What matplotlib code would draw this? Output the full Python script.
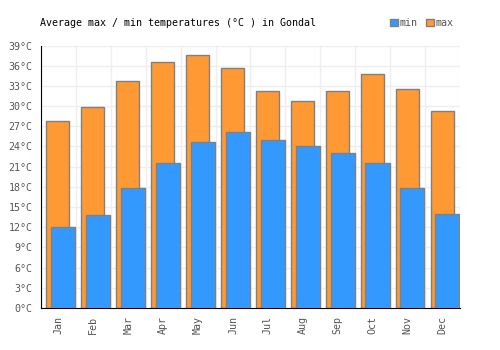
import matplotlib
matplotlib.use('Agg')
import matplotlib.pyplot as plt
from matplotlib.patches import Patch
import numpy as np

months = ['Jan', 'Feb', 'Mar', 'Apr', 'May', 'Jun',
          'Jul', 'Aug', 'Sep', 'Oct', 'Nov', 'Dec']
t_max = [27.8, 29.8, 33.8, 36.5, 37.6, 35.7, 32.2, 30.8, 32.3, 34.8, 32.6, 29.2]
t_min = [12.0, 13.8, 17.9, 21.6, 24.6, 26.1, 25.0, 24.1, 23.1, 21.6, 17.9, 13.9]
y_ticks = list(range(0, 40, 3))

orange = '#ff9933'
blue = '#3399ff'
edge = '#808080'
txt = '#555555'
font = 'DejaVu Sans Mono'
fs = 7.2

fig = plt.figure(figsize=(5, 3.5), dpi=100, facecolor='white')
ax = fig.add_axes([0.082, 0.12, 0.838, 0.75])

x = np.arange(len(months))
ax.bar(x - 0.014, t_max, width=0.66, color=orange, edgecolor=edge, linewidth=1, zorder=2)
ax.bar(x + 0.137, t_min, width=0.69, color=blue, edgecolor=edge, linewidth=1, zorder=3)

ax.set_xlim(-0.5, 11.5)
ax.set_ylim(0, 39)
ax.set_yticks(y_ticks)
ax.set_yticklabels(['%d°C' % v for v in y_ticks], fontfamily=font, fontsize=fs, color=txt)
ax.set_xticks(x)
ax.set_xticklabels(months, rotation=90, fontfamily=font, fontsize=fs, color=txt)
ax.set_xticks(np.arange(-0.5, 12, 1), minor=True)
ax.tick_params(axis='both', which='both', length=0)
ax.tick_params(axis='y', pad=6)
ax.tick_params(axis='x', pad=6)

ax.grid(True, which='minor', axis='x', color='#eeeeee', linewidth=1, zorder=0)
ax.grid(True, which='major', axis='y', color='#eeeeee', linewidth=1, zorder=0)
ax.set_axisbelow(True)

for s in ['top', 'right']:
    ax.spines[s].set_visible(False)
ax.spines['left'].set_color('black')
ax.spines['bottom'].set_color('black')

fig.text(0.08, 0.934, 'Average max / min temperatures (°C ) in Gondal',
         fontfamily=font, fontsize=fs, color='black', va='center', ha='left')

handles = [Patch(facecolor=blue, edgecolor=edge), Patch(facecolor=orange, edgecolor=edge)]
leg = fig.legend(handles, ['min', 'max'], loc='center right', bbox_to_anchor=(0.925, 0.934),
                 ncol=2, frameon=False, handlelength=0.8, handleheight=0.8,
                 handletextpad=0.2, columnspacing=0.8,
                 prop={'family': font, 'size': fs})
for t in leg.get_texts():
    t.set_color(txt)

fig.savefig('out.png', dpi=100)
